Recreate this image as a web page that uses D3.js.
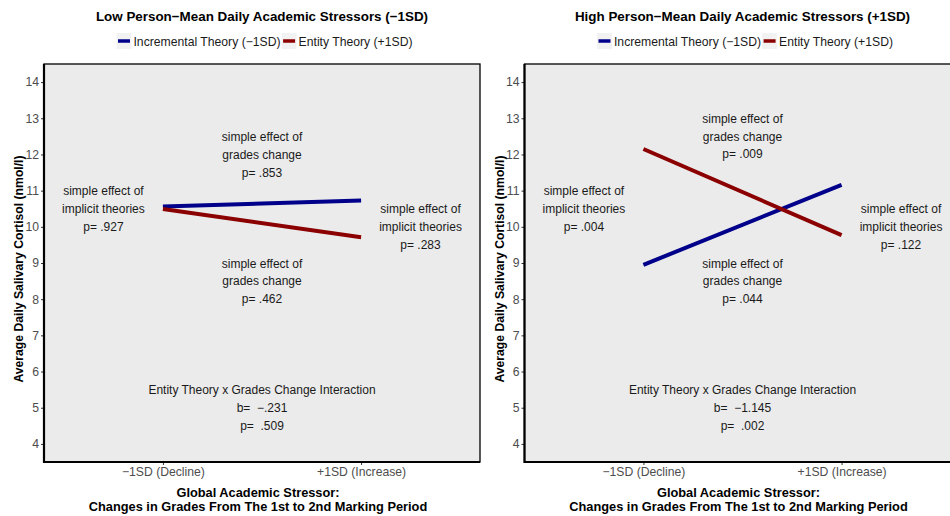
<!DOCTYPE html>
<html>
<head>
<meta charset="utf-8">
<script src="https://cdn.jsdelivr.net/npm/d3@7"></script>
<style>
  html, body { margin: 0; padding: 0; background: #ffffff; }
  svg { display: block; font-family: "Liberation Sans", Arial, sans-serif; }
  text { white-space: pre; }
</style>
</head>
<body>
<svg id="chart" width="950" height="516"></svg>
<script>
// Grades-change conditions on the x axis
const categories = ["\u22121SD (Decline)", "+1SD (Increase)"];
const categoryPos = [1, 2];

// Implicit-theory groups
const seriesNames = ["Incremental Theory (\u22121SD)", "Entity Theory (+1SD)"];
const seriesColors = ["#00008B", "#8B0000"];

// Predicted cortisol, low person-mean stressors
const lowIncremental = [10.56, 10.73];
const lowEntity = [10.49, 9.71];

// Predicted cortisol, high person-mean stressors
const highIncremental = [8.95, 11.16];
const highEntity = [12.15, 9.77];

// Y axis ticks
const yTicks = [4, 5, 6, 7, 8, 9, 10, 11, 12, 13, 14];

const panelTitles = [
  "Low Person\u2212Mean Daily Academic Stressors (\u22121SD)",
  "High Person\u2212Mean Daily Academic Stressors (+1SD)"
];

// Annotation text per panel: [x, y, lines]
const lowNotes = [
  [0.7, 10.5, ["simple effect of", "implicit theories", "p= .927"]],
  [2.3, 10.0, ["simple effect of", "implicit theories", "p= .283"]],
  [1.5, 12.0, ["simple effect of", "grades change", "p= .853"]],
  [1.5, 8.5, ["simple effect of", "grades change", "p= .462"]],
  [1.5, 5.0, ["Entity Theory x Grades Change Interaction", "b=  \u2212.231", "p=  .509"]]
];
const highNotes = [
  [0.7, 10.5, ["simple effect of", "implicit theories", "p= .004"]],
  [2.3, 10.0, ["simple effect of", "implicit theories", "p= .122"]],
  [1.5, 12.5, ["simple effect of", "grades change", "p= .009"]],
  [1.5, 8.5, ["simple effect of", "grades change", "p= .044"]],
  [1.5, 5.0, ["Entity Theory x Grades Change Interaction", "b=  \u22121.145", "p=  .002"]]
];

const yLabel = "Average Daily Salivary Cortisol (nmol/l)";
const xTitle = ["Global Academic Stressor:", "Changes in Grades From The 1st to 2nd Marking Period"];

const panels = [
  { offset: 0, title: panelTitles[0], series: [lowIncremental, lowEntity], notes: lowNotes },
  { offset: 480.5, title: panelTitles[1], series: [highIncremental, highEntity], notes: highNotes }
];

const svg = d3.select("#chart");
const plot = { left: 44, right: 480, top: 64, bottom: 462 };

const x = d3.scaleLinear().domain([0.4, 2.6]).range([plot.left, plot.right]);
const y = d3.scaleLinear().domain([3.5, 14.5]).range([plot.bottom, plot.top]);
const lineGen = d3.line().x((d, i) => x(categoryPos[i])).y(d => y(d));

panels.forEach(p => {
  const g = svg.append("g").attr("transform", `translate(${p.offset},0)`);
  const cx = (plot.left + plot.right) / 2;

  // Panel background
  g.append("rect")
    .attr("x", plot.left).attr("y", plot.top)
    .attr("width", plot.right - plot.left).attr("height", plot.bottom - plot.top)
    .attr("fill", "#EBEBEB");

  // Title
  g.append("text")
    .attr("x", cx).attr("y", 21)
    .attr("text-anchor", "middle")
    .attr("font-weight", "bold").attr("font-size", 13.4)
    .attr("fill", "#000")
    .text(p.title);

  // Legend
  const leg = g.append("g");
  let lx = 0;
  seriesNames.forEach((name, i) => {
    const item = leg.append("g").attr("transform", `translate(${lx},0)`);
    item.append("rect").attr("x", 0).attr("y", 33).attr("width", 15).attr("height", 16).attr("fill", "#F2F2F2");
    item.append("line").attr("x1", 1.5).attr("x2", 13.5).attr("y1", 41).attr("y2", 41)
      .attr("stroke", seriesColors[i]).attr("stroke-width", 3.5);
    const t = item.append("text").attr("x", 17).attr("y", 45.5)
      .attr("font-size", 12.2).attr("fill", "#1A1A1A").text(name);
    lx += 17 + t.node().getComputedTextLength() + 1;
  });
  leg.attr("transform", `translate(${cx + 3 - lx / 2},0)`);

  // Y axis
  const yAxis = g.append("g").attr("transform", `translate(${plot.left},0)`)
    .call(d3.axisLeft(y).tickValues(yTicks).tickSize(3).tickPadding(2));
  yAxis.select(".domain").remove();
  yAxis.selectAll(".tick line").attr("stroke", "#333");
  yAxis.selectAll(".tick text").attr("fill", "#4D4D4D").attr("font-size", 12.2)
    .attr("font-family", "Liberation Sans, Arial, sans-serif");

  // X axis
  const xAxis = g.append("g").attr("transform", `translate(0,${plot.bottom})`)
    .call(d3.axisBottom(x).tickValues(categoryPos).tickFormat((d, i) => categories[i]).tickSize(3).tickPadding(2));
  xAxis.select(".domain").remove();
  xAxis.selectAll(".tick line").attr("stroke", "#333");
  xAxis.selectAll(".tick text").attr("fill", "#4D4D4D").attr("font-size", 12.2)
    .attr("font-family", "Liberation Sans, Arial, sans-serif");

  // Panel border
  g.append("rect")
    .attr("x", plot.left).attr("y", plot.top)
    .attr("width", plot.right - plot.left).attr("height", plot.bottom - plot.top)
    .attr("fill", "none").attr("stroke", "#000").attr("stroke-width", 1.3);
  g.append("path")
    .attr("d", `M${plot.left},${plot.top}V${plot.bottom}H${plot.right}`)
    .attr("fill", "none").attr("stroke", "#000").attr("stroke-width", 2.2);

  // Series lines
  p.series.forEach((vals, i) => {
    g.append("path").datum(vals)
      .attr("d", lineGen)
      .attr("fill", "none").attr("stroke", seriesColors[i])
      .attr("stroke-width", 4);
  });

  // Annotations
  p.notes.forEach(([nx, ny, lines]) => {
    const t = g.append("text")
      .attr("text-anchor", "middle")
      .attr("font-size", 12).attr("fill", "#1A1A1A");
    const lh = 17.8;
    const y0 = y(ny) - lh * (lines.length - 1) / 2 + 4.3;
    lines.forEach((ln, k) => {
      t.append("tspan").attr("x", x(nx)).attr("y", y0 + k * lh).text(ln);
    });
  });

  // Y axis title
  g.append("text")
    .attr("transform", `translate(${plot.left - 21},269) rotate(-90)`)
    .attr("text-anchor", "middle")
    .attr("font-weight", "bold").attr("font-size", 12.2).attr("fill", "#000")
    .text(yLabel);

  // X axis title
  const xt = g.append("text").attr("text-anchor", "middle")
    .attr("font-weight", "bold").attr("font-size", 12.8).attr("fill", "#000");
  xTitle.forEach((ln, k) => {
    xt.append("tspan").attr("x", cx - 4).attr("y", 497 + k * 14).text(ln);
  });
});
</script>
</body>
</html>
